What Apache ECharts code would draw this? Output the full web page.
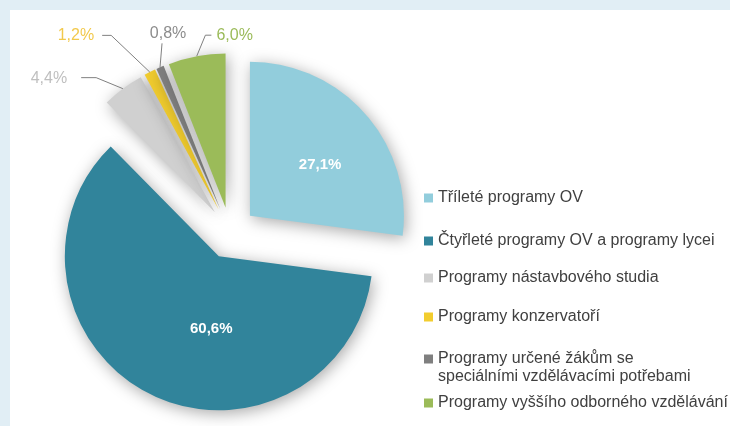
<!DOCTYPE html>
<html>
<head>
<meta charset="utf-8">
<script src="https://cdn.jsdelivr.net/npm/echarts@6/dist/echarts.min.js"></script>
<style>
  html, body { margin: 0; padding: 0; background: #e1eef5; width: 730px; height: 426px; overflow: hidden; }
  #chart { position: absolute; left: 10px; top: 10px; width: 720px; height: 416px; background: #ffffff; }
</style>
</head>
<body>
<div id="chart"></div>
<script>
// ---- data ----
const categories = [
  'Tříleté programy OV',
  'Čtyřleté programy OV a programy lycei',
  'Programy nástavbového studia',
  'Programy konzervatoří',
  'Programy určené žákům se speciálními vzdělávacími potřebami',
  'Programy vyššího odborného vzdělávání'
];
const values = [27.1, 60.6, 4.4, 1.2, 0.8, 6.0];
const valueLabels = ['27,1%', '60,6%', '4,4%', '1,2%', '0,8%', '6,0%'];

// ---- styling ----
const sliceColors = ['#92cddc', '#31849b', '#d0d0d0', '#f2cd2f', '#7f7f7f', '#9bbb59'];
const labelColors = ['#ffffff', '#ffffff', '#bfbfbf', '#f2c94c', '#8c8c8c', '#9bbb59'];
const FONT = '"Liberation Sans", Arial, sans-serif';
const PIE_CENTER = [220.4, 223];
const PIE_RADIUS = 154;
const EXPLODE = 26;

// label shifts for inside labels
const insideShift = { 0: [10, 2], 1: [28, 1] };
// outside label geometry, offsets from the (exploded) slice edge point
const outsideGeom = {
  2: { pts: [[-26.7, -11], [-41.7, -11]], text: [-55.7, -10], align: 'right' },
  3: { pts: [[-38.6, -36.7], [-47.6, -36.7]], text: [-55.6, -36.7], align: 'right' },
  4: { pts: [[2, -24]], text: [8, -34], align: 'center' },
  5: { pts: [[8.7, -21], [14.7, -21]], text: [19.7, -21], align: 'left' }
};

// explode vector of each slice, along its mid angle (clockwise from 12 o'clock)
const total = values.reduce((a, b) => a + b, 0);
let cum = 0;
const explodeVec = values.map(v => {
  const mid = (cum + v / 2) / total * 2 * Math.PI;
  cum += v;
  return [Math.sin(mid) * EXPLODE, -Math.cos(mid) * EXPLODE];
});

const legendCenters = [188, 231, 268, 307, 349, 393];

const chart = echarts.init(document.getElementById('chart'), null, { renderer: 'canvas' });

// visible, exploded slices (with the inside labels)
const sliceData = categories.map((name, i) => ({
  name: name,
  value: values[i],
  selected: true,
  itemStyle: { color: sliceColors[i] },
  label: { show: i < 2 }
}));

// transparent copy that carries the outside labels
const labelData = categories.map((name, i) => ({
  name: name,
  value: values[i],
  itemStyle: { color: 'rgba(0,0,0,0)' },
  label: { show: i >= 2, color: labelColors[i] },
  labelLine: { show: i >= 2 }
}));

const legends = categories.map((name, i) => {
  const twoLine = i === 4;
  return {
    show: true,
    data: [name],
    orient: 'vertical',
    left: 414,
    top: twoLine ? legendCenters[i] - 27 : legendCenters[i] - 9,
    padding: 0,
    icon: 'rect',
    itemWidth: 9,
    itemHeight: 9,
    selectedMode: false,
    formatter: function (n) {
      return twoLine ? '\nProgramy určené žákům se\nspeciálními vzdělávacími potřebami' : n;
    },
    textStyle: {
      fontFamily: FONT,
      fontSize: 16,
      color: '#404040',
      lineHeight: 18
    }
  };
});

chart.setOption({
  animation: false,
  backgroundColor: '#ffffff',
  legend: legends,
  series: [{
    type: 'pie',
    center: PIE_CENTER,
    radius: PIE_RADIUS,
    startAngle: 90,
    clockwise: true,
    selectedMode: 'multiple',
    selectedOffset: EXPLODE,
    avoidLabelOverlap: false,
    emphasis: { disabled: true },
    itemStyle: {
      borderWidth: 0,
      shadowBlur: 16,
      shadowColor: 'rgba(0,0,0,0.35)',
      shadowOffsetX: 2,
      shadowOffsetY: 3
    },
    label: {
      show: true,
      position: 'inside',
      color: '#ffffff',
      fontWeight: 'bold',
      fontSize: 15,
      fontFamily: FONT,
      formatter: function (p) { return valueLabels[p.dataIndex]; }
    },
    labelLine: { show: false },
    labelLayout: function (p) {
      const s = insideShift[p.dataIndex];
      return s ? { dx: s[0], dy: s[1] } : {};
    },
    data: sliceData
  }, {
    type: 'pie',
    z: 3,
    silent: true,
    center: PIE_CENTER,
    radius: PIE_RADIUS,
    startAngle: 90,
    clockwise: true,
    selectedMode: false,
    avoidLabelOverlap: false,
    emphasis: { disabled: true },
    itemStyle: { borderWidth: 0 },
    label: {
      show: true,
      position: 'outside',
      fontFamily: FONT,
      fontSize: 16,
      formatter: function (p) { return valueLabels[p.dataIndex]; }
    },
    labelLine: {
      show: true,
      length: 15,
      length2: 15,
      lineStyle: { color: '#808080', width: 1 }
    },
    labelLayout: function (p) {
      const i = p.dataIndex;
      const g = outsideGeom[i];
      if (!g || !p.labelLinePoints) return {};
      const e = explodeVec[i];
      const p0 = [p.labelLinePoints[0][0] + e[0], p.labelLinePoints[0][1] + e[1]];
      const pts = [p0].concat(g.pts.map(d => [p0[0] + d[0], p0[1] + d[1]]));
      if (pts.length < 3) pts.push(pts[pts.length - 1]);
      return {
        x: p0[0] + g.text[0],
        y: p0[1] + g.text[1],
        align: g.align,
        verticalAlign: 'middle',
        labelLinePoints: pts
      };
    },
    data: labelData
  }]
});
</script>
</body>
</html>
